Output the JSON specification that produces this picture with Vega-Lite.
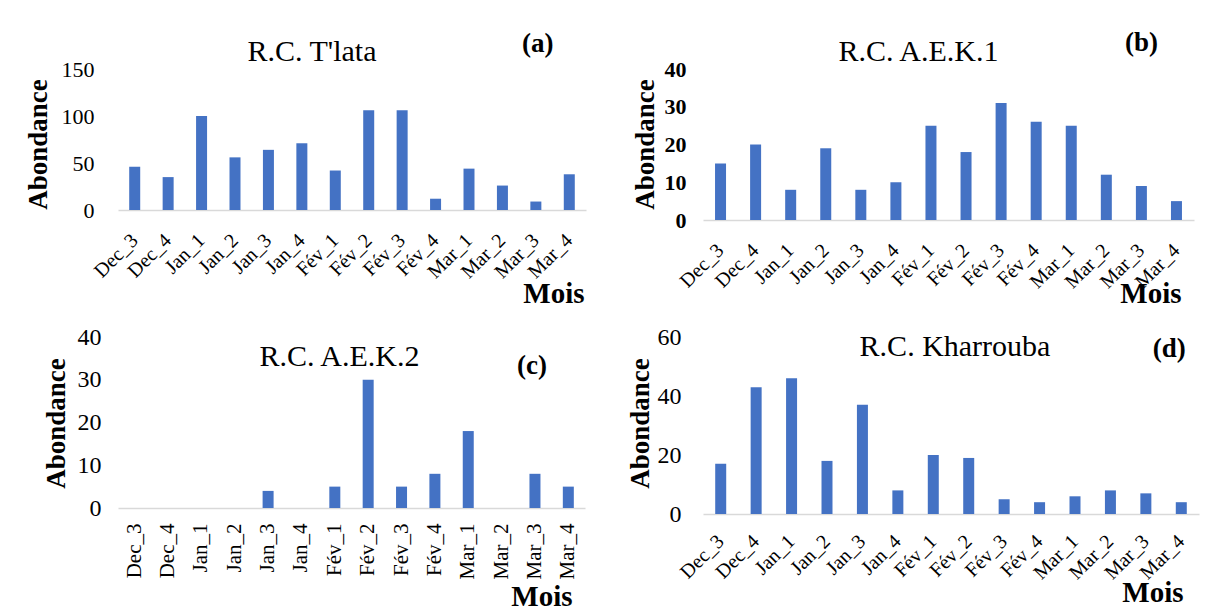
{
  "$schema": "https://vega.github.io/schema/vega-lite/v6.json",
  "autosize": {"type": "none"},
  "padding": {"left": 118, "top": 69, "right": 1095, "bottom": 543},
  "background": "white",
  "config": {
    "font": "Liberation Serif",
    "view": {"stroke": null},
    "axis": {
      "grid": false, "ticks": false, "tickSize": 0,
      "labelColor": "black", "titleColor": "black",
      "labelFont": "Liberation Serif", "titleFont": "Liberation Serif",
      "titleFontSize": 27, "titleFontWeight": "bold",
      "labelOverlap": false, "labelFlush": false
    },
    "axisX": {"domainColor": "#D9D9D9", "domainWidth": 1.5, "labelFontSize": 20, "labelAlign": "right", "labelBaseline": "middle", "titleFontSize": 29, "titleAlign": "right", "titleBaseline": "alphabetic"},
    "axisY": {"domain": false, "titleBaseline": "alphabetic", "titleAlign": "center", "titleAngle": -90},
    "title": {"font": "Liberation Serif", "fontSize": 30, "fontWeight": "normal", "color": "black", "frame": "group", "anchor": "middle"},
    "bar": {"color": "#4472C4"},
    "text": {"font": "Liberation Serif", "fontSize": 27, "fontWeight": "bold", "color": "black", "align": "center", "baseline": "middle"}
  },
  "datasets": {
    "a": [
      {"mois": "Dec_3", "abondance": 46}, {"mois": "Dec_4", "abondance": 35}, {"mois": "Jan_1", "abondance": 100},
      {"mois": "Jan_2", "abondance": 56}, {"mois": "Jan_3", "abondance": 64}, {"mois": "Jan_4", "abondance": 71},
      {"mois": "Fév_1", "abondance": 42}, {"mois": "Fév_2", "abondance": 106}, {"mois": "Fév_3", "abondance": 106},
      {"mois": "Fév_4", "abondance": 12}, {"mois": "Mar_1", "abondance": 44}, {"mois": "Mar_2", "abondance": 26},
      {"mois": "Mar_3", "abondance": 9}, {"mois": "Mar_4", "abondance": 38}
    ],
    "b": [
      {"mois": "Dec_3", "abondance": 15}, {"mois": "Dec_4", "abondance": 20}, {"mois": "Jan_1", "abondance": 8},
      {"mois": "Jan_2", "abondance": 19}, {"mois": "Jan_3", "abondance": 8}, {"mois": "Jan_4", "abondance": 10},
      {"mois": "Fév_1", "abondance": 25}, {"mois": "Fév_2", "abondance": 18}, {"mois": "Fév_3", "abondance": 31},
      {"mois": "Fév_4", "abondance": 26}, {"mois": "Mar_1", "abondance": 25}, {"mois": "Mar_2", "abondance": 12},
      {"mois": "Mar_3", "abondance": 9}, {"mois": "Mar_4", "abondance": 5}
    ],
    "c": [
      {"mois": "Dec_3", "abondance": 0}, {"mois": "Dec_4", "abondance": 0}, {"mois": "Jan_1", "abondance": 0},
      {"mois": "Jan_2", "abondance": 0}, {"mois": "Jan_3", "abondance": 4}, {"mois": "Jan_4", "abondance": 0},
      {"mois": "Fév_1", "abondance": 5}, {"mois": "Fév_2", "abondance": 30}, {"mois": "Fév_3", "abondance": 5},
      {"mois": "Fév_4", "abondance": 8}, {"mois": "Mar_1", "abondance": 18}, {"mois": "Mar_2", "abondance": 0},
      {"mois": "Mar_3", "abondance": 8}, {"mois": "Mar_4", "abondance": 5}
    ],
    "d": [
      {"mois": "Dec_3", "abondance": 17}, {"mois": "Dec_4", "abondance": 43}, {"mois": "Jan_1", "abondance": 46},
      {"mois": "Jan_2", "abondance": 18}, {"mois": "Jan_3", "abondance": 37}, {"mois": "Jan_4", "abondance": 8},
      {"mois": "Fév_1", "abondance": 20}, {"mois": "Fév_2", "abondance": 19}, {"mois": "Fév_3", "abondance": 5},
      {"mois": "Fév_4", "abondance": 4}, {"mois": "Mar_1", "abondance": 6}, {"mois": "Mar_2", "abondance": 8},
      {"mois": "Mar_3", "abondance": 7}, {"mois": "Mar_4", "abondance": 4}
    ]
  },
  "columns": 2,
  "bounds": "flush",
  "spacing": {"row": 117, "column": 117},
  "concat": [
    {
      "width": 468, "height": 141,
      "title": {"text": "R.C. T'lata", "dx": -40, "offset": -37},
      "layer": [
        {
          "data": {"name": "a"},
          "mark": {"type": "bar", "size": 11},
          "encoding": {
            "x": {"field": "mois", "type": "nominal", "sort": null,
                  "scale": {"domain": ["Dec_3","Dec_4","Jan_1","Jan_2","Jan_3","Jan_4","Fév_1","Fév_2","Fév_3","Fév_4","Mar_1","Mar_2","Mar_3","Mar_4"], "paddingInner": 0, "paddingOuter": 0},
                  "axis": {"title": "Mois", "labelAngle": -45, "labelPadding": 27, "labelOverlap": false, "titleX": 466, "titleY": 92}},
            "y": {"field": "abondance", "type": "quantitative",
                  "scale": {"domain": [0, 150], "nice": false},
                  "axis": {"title": "Abondance", "values": [0, 50, 100, 150], "tickCount": 4, "labelOverlap": false, "labelFontSize": 22, "labelPadding": 24, "titleX": -72, "titleY": 75}}
          }
        },
        {
          "data": {"values": [{"lab": "(a)"}]},
          "mark": {"type": "text", "dx": 2},
          "encoding": {
            "text": {"field": "lab"},
            "x": {"datum": "Mar_3", "type": "nominal"},
            "y": {"datum": 176.6, "type": "quantitative"}
          }
        }
      ]
    },
    {
      "width": 491, "height": 151,
      "title": {"text": "R.C. A.E.K.1", "dx": -30, "offset": -38.6},
      "layer": [
        {
          "data": {"name": "b"},
          "mark": {"type": "bar", "size": 11},
          "encoding": {
            "x": {"field": "mois", "type": "nominal", "sort": null,
                  "scale": {"domain": ["Dec_3","Dec_4","Jan_1","Jan_2","Jan_3","Jan_4","Fév_1","Fév_2","Fév_3","Fév_4","Mar_1","Mar_2","Mar_3","Mar_4"], "paddingInner": 0, "paddingOuter": 0},
                  "axis": {"title": "Mois", "labelAngle": -45, "labelPadding": 27, "labelOverlap": false, "titleX": 478, "titleY": 82}},
            "y": {"field": "abondance", "type": "quantitative",
                  "scale": {"domain": [0, 40], "nice": false},
                  "axis": {"title": "Abondance", "values": [0, 10, 20, 30, 40], "tickCount": 5, "labelOverlap": false, "labelFontSize": 22, "labelFontWeight": "bold", "labelPadding": 17, "titleX": -50, "titleY": 75}}
          }
        },
        {
          "data": {"values": [{"lab": "(b)"}]},
          "mark": {"type": "text"},
          "encoding": {
            "text": {"field": "lab"},
            "x": {"datum": "Mar_3", "type": "nominal"},
            "y": {"datum": 47.0, "type": "quantitative"}
          }
        }
      ]
    },
    {
      "width": 467, "height": 171,
      "title": {"text": "R.C. A.E.K.2", "dx": -12, "offset": -47},
      "layer": [
        {
          "data": {"name": "c"},
          "mark": {"type": "bar", "size": 11},
          "encoding": {
            "x": {"field": "mois", "type": "nominal", "sort": null,
                  "scale": {"domain": ["Dec_3","Dec_4","Jan_1","Jan_2","Jan_3","Jan_4","Fév_1","Fév_2","Fév_3","Fév_4","Mar_1","Mar_2","Mar_3","Mar_4"], "paddingInner": 0, "paddingOuter": 0},
                  "axis": {"title": "Mois", "labelAngle": -90, "labelFontSize": 21, "labelPadding": 15, "labelOverlap": false, "titleX": 454, "titleY": 97.6}},
            "y": {"field": "abondance", "type": "quantitative",
                  "scale": {"domain": [0, 40], "nice": false},
                  "axis": {"title": "Abondance", "values": [0, 10, 20, 30, 40], "tickCount": 5, "labelOverlap": false, "labelFontSize": 24, "labelPadding": 17, "titleX": -54, "titleY": 86}}
          }
        },
        {
          "data": {"values": [{"lab": "(c)"}]},
          "mark": {"type": "text", "dx": -3},
          "encoding": {
            "text": {"field": "lab"},
            "x": {"datum": "Mar_3", "type": "nominal"},
            "y": {"datum": 33.1, "type": "quantitative"}
          }
        }
      ]
    },
    {
      "width": 496, "height": 177,
      "title": {"text": "R.C. Kharrouba", "dx": 4, "offset": -37},
      "layer": [
        {
          "data": {"name": "d"},
          "mark": {"type": "bar", "size": 11},
          "encoding": {
            "x": {"field": "mois", "type": "nominal", "sort": null,
                  "scale": {"domain": ["Dec_3","Dec_4","Jan_1","Jan_2","Jan_3","Jan_4","Fév_1","Fév_2","Fév_3","Fév_4","Mar_1","Mar_2","Mar_3","Mar_4"], "paddingInner": 0, "paddingOuter": 0},
                  "axis": {"title": "Mois", "labelAngle": -45, "labelPadding": 24, "labelOverlap": false, "titleX": 480, "titleY": 87.6}},
            "y": {"field": "abondance", "type": "quantitative",
                  "scale": {"domain": [0, 60], "nice": false},
                  "axis": {"title": "Abondance", "values": [0, 20, 40, 60], "tickCount": 4, "labelOverlap": false, "labelFontSize": 24, "labelPadding": 22, "titleX": -55, "titleY": 86}}
          }
        },
        {
          "data": {"values": [{"lab": "(d)"}]},
          "mark": {"type": "text", "dx": -12},
          "encoding": {
            "text": {"field": "lab"},
            "x": {"datum": "Mar_4", "type": "nominal"},
            "y": {"datum": 55.9, "type": "quantitative"}
          }
        }
      ]
    }
  ]
}
